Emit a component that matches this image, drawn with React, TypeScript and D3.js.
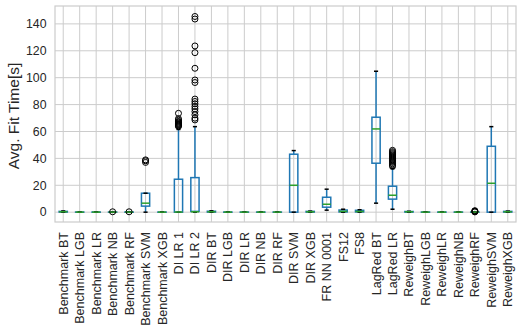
import * as d3 from 'd3';
import { useEffect, useRef } from 'react';

const categories = [
  'Benchmark BT', 'Benchmark LGB', 'Benchmark LR', 'Benchmark NB', 'Benchmark RF',
  'Benchmark SVM', 'Benchmark XGB', 'DI LR 1', 'DI LR 2', 'DIR BT', 'DIR LGB',
  'DIR LR', 'DIR NB', 'DIR RF', 'DIR SVM', 'DIR XGB', 'FR NN 0001', 'FS12', 'FS8',
  'LagRed BT', 'LagRed LR', 'ReweighBT', 'ReweighLGB', 'ReweighLR', 'ReweighNB',
  'ReweighRF', 'ReweighSVM', 'ReweighXGB',
];

// five-number summaries (seconds)
const whiskLow = [0, 0, 0, 0, 0, 0, 0, 0, 0, 0, 0, 0, 0, 0, 0, 0, 1.5, 0, 0, 6.7, 2.2, 0, 0, 0, 0, 0, 0, 0];
const q1 = [0.1, 0.02, 0.02, 0.02, 0.02, 4.5, 0.02, 0, 0.6, 0.1, 0.02, 0.02, 0.02, 0.02, 0, 0.1, 3.7, 0.2, 0.2, 36.4, 9.7, 0.1, 0.02, 0.02, 0.02, 0.02, 0, 0.1];
const medians = [0.3, 0.05, 0.05, 0.05, 0.05, 6.7, 0.05, 0.1, 0.3, 0.3, 0.05, 0.05, 0.05, 0.05, 20, 0.3, 5.9, 0.6, 0.5, 61.9, 12.6, 0.3, 0.05, 0.05, 0.05, 0.05, 21.5, 0.3];
const q3 = [0.6, 0.08, 0.08, 0.08, 0.08, 14.1, 0.08, 24.5, 25.7, 0.7, 0.08, 0.08, 0.08, 0.08, 43.1, 0.6, 11.1, 1.6, 1.4, 70.6, 19.3, 0.5, 0.08, 0.08, 0.08, 0.08, 49, 0.6];
const whiskHigh = [0.9, 0.1, 0.1, 0.1, 0.1, 14.1, 0.1, 61.5, 63.6, 1, 0.1, 0.1, 0.1, 0.1, 45.8, 0.8, 17.1, 2.2, 1.8, 104.8, 32.5, 0.7, 0.1, 0.1, 0.1, 0.1, 63.6, 0.8];
const outliers: number[][] = [
  [], [], [], [0.3], [0.3], [37, 38.2, 38.9], [],
  [73.5, 69.5, 68.5, 67.5, 67, 66.3, 65.8, 65.2, 64.8, 64.2, 63.8],
  [145.5, 143.6, 123.6, 118.6, 107, 98.3, 96.4, 84.1, 82.3, 80.6, 78.6, 76.8, 74.8, 72.4, 69.9, 68.6],
  [], [], [], [], [], [], [], [], [], [], [],
  [46, 45, 44.2, 43.4, 42.6, 41.8, 41, 40.2, 39.4, 38.6, 37.8, 37, 36, 35, 34],
  [], [], [], [], [0.2, 0.5, 0.8, 1.1], [], [],
];
const yTicks = [0, 20, 40, 60, 80, 100, 120, 140];

const W = 522;
const H = 335;
const margin = { left: 55, right: 6, top: 6, bottom: 113 };

export default function App() {
  const ref = useRef<SVGSVGElement>(null);

  useEffect(() => {
    document.body.style.margin = '0';
    const svg = d3.select(ref.current);
    svg.selectAll('*').remove();

    const font = "'Liberation Sans', Arial, sans-serif";
    const x = d3.scalePoint<string>().domain(categories).range([margin.left, W - margin.right]).padding(0.5);
    const y = d3.scaleLinear().domain([-7.3, 153.3]).range([H - margin.bottom, margin.top]);
    const step = x.step();
    const boxW = step * 0.5;
    const capW = boxW * 0.5;

    // grid
    const grid = svg.append('g').attr('stroke', '#cccccc').attr('stroke-width', 1);
    categories.forEach(c => {
      grid.append('line').attr('x1', x(c)!).attr('x2', x(c)!).attr('y1', margin.top).attr('y2', H - margin.bottom);
    });
    yTicks.forEach(t => {
      grid.append('line').attr('x1', margin.left).attr('x2', W - margin.right).attr('y1', y(t)).attr('y2', y(t));
    });
    svg.append('rect')
      .attr('x', margin.left).attr('y', margin.top)
      .attr('width', W - margin.left - margin.right).attr('height', H - margin.top - margin.bottom)
      .attr('fill', 'none').attr('stroke', '#cccccc').attr('stroke-width', 1.2);

    // boxes
    categories.forEach((c, i) => {
      const cx = x(c)!;
      const g = svg.append('g');
      g.append('rect')
        .attr('x', cx - boxW / 2).attr('y', y(q3[i]))
        .attr('width', boxW).attr('height', Math.max(0, y(q1[i]) - y(q3[i])))
        .attr('fill', 'none').attr('stroke', '#1f77b4').attr('stroke-width', 1.5);
      g.append('line').attr('x1', cx).attr('x2', cx).attr('y1', y(q1[i])).attr('y2', y(whiskLow[i]))
        .attr('stroke', '#1f77b4').attr('stroke-width', 1.5);
      g.append('line').attr('x1', cx).attr('x2', cx).attr('y1', y(q3[i])).attr('y2', y(whiskHigh[i]))
        .attr('stroke', '#1f77b4').attr('stroke-width', 1.5);
      [whiskLow[i], whiskHigh[i]].forEach(v => {
        g.append('line').attr('x1', cx - capW / 2).attr('x2', cx + capW / 2).attr('y1', y(v)).attr('y2', y(v))
          .attr('stroke', '#000').attr('stroke-width', 1.5);
      });
      g.append('line').attr('x1', cx - boxW / 2).attr('x2', cx + boxW / 2).attr('y1', y(medians[i])).attr('y2', y(medians[i]))
        .attr('stroke', '#2ca02c').attr('stroke-width', 1.5);
      g.selectAll('circle.f').data(outliers[i]).enter().append('circle')
        .attr('cx', cx).attr('cy', d => y(d)).attr('r', 3)
        .attr('fill', 'none').attr('stroke', '#000').attr('stroke-width', 1);
    });

    // y ticks
    svg.append('g').selectAll('text').data(yTicks).enter().append('text')
      .attr('x', margin.left - 8.5).attr('y', d => y(d)).attr('dy', '0.35em')
      .attr('text-anchor', 'end').attr('font-family', font).attr('font-size', 12.3).attr('fill', '#262626')
      .text(d => d);

    // x ticks
    svg.append('g').selectAll('text').data(categories).enter().append('text')
      .attr('transform', d => `translate(${x(d)! + 4.5},${H - margin.bottom + 10}) rotate(-90)`)
      .attr('text-anchor', 'end').attr('font-family', font).attr('font-size', 12.5).attr('fill', '#262626')
      .text(d => d);

    svg.append('text')
      .attr('transform', `translate(19,${(margin.top + H - margin.bottom) / 2 + 2}) rotate(-90)`)
      .attr('text-anchor', 'middle').attr('font-family', font).attr('font-size', 15.5).attr('fill', '#262626')
      .text('Avg. Fit Time[s]');
  }, []);

  return <svg ref={ref} width={W} height={H} style={{ display: 'block', background: '#fff' }} />;
}
